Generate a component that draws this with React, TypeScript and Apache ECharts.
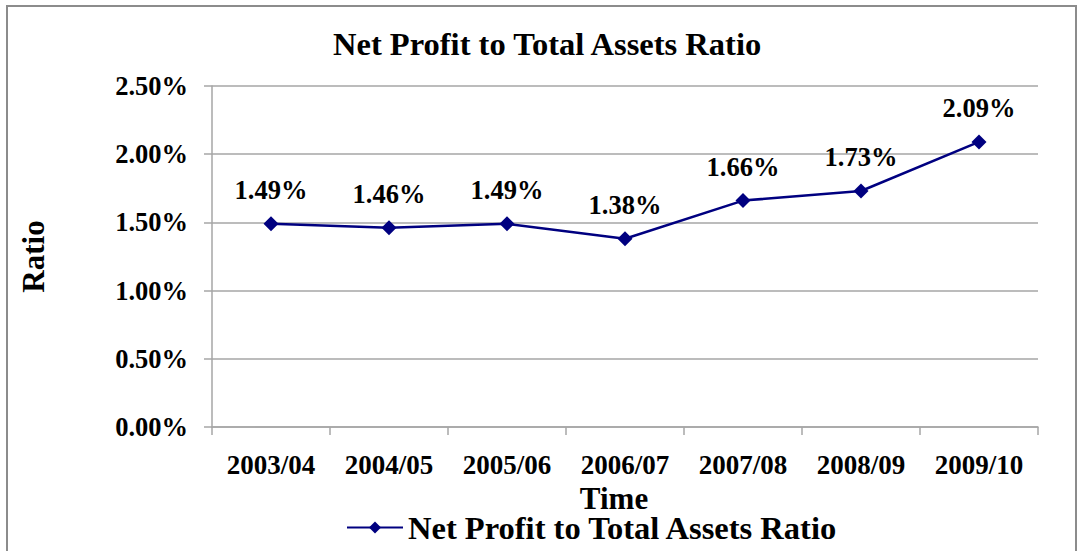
import React, { useEffect, useRef } from "react";
import * as echarts from "echarts";

const chartTitle = "Net Profit to Total Assets Ratio";
const seriesName = "Net Profit to Total Assets Ratio";
const categories = ["2003/04", "2004/05", "2005/06", "2006/07", "2007/08", "2008/09", "2009/10"];
const ratioValues = [1.49, 1.46, 1.49, 1.38, 1.66, 1.73, 2.09];
const yAxisName = "Ratio";
const xAxisName = "Time";

const FONT = "'Liberation Serif', 'Times New Roman', serif";
const GRID_COLOR = "#a6a6a6";
const NAVY = "#000080";

export default function App() {
  const ref = useRef<HTMLDivElement>(null);
  useEffect(() => {
    if (!ref.current) return;
    const chart = echarts.init(ref.current, null, { renderer: "svg" });
    chart.setOption({
      animation: false,
      backgroundColor: "#ffffff",
      textStyle: { fontFamily: FONT },
      title: {
        text: chartTitle,
        left: 333,
        top: 27,
        padding: 0,
        textStyle: { fontFamily: FONT, fontWeight: "bold", fontSize: 32.5, color: "#000" },
      },
      graphic: [
        {
          type: "rect",
          shape: { x: 7, y: 6, width: 1069, height: 600 },
          style: { fill: "none", stroke: "#8c8c8c", lineWidth: 2 },
          silent: true,
        },
      ],
      legend: {
        left: 346,
        top: 511,
        padding: 0,
        itemWidth: 56,
        itemHeight: 15,
        itemGap: 4,
        textStyle: {
          fontFamily: FONT,
          fontWeight: "bold",
          fontSize: 32.5,
          lineHeight: 24,
          color: "#000",
        },
        data: [seriesName],
      },
      grid: { left: 212, right: 40, top: 86, bottom: 124, containLabel: false },
      xAxis: {
        type: "category",
        data: categories,
        boundaryGap: true,
        name: xAxisName,
        nameLocation: "middle",
        nameGap: 60,
        nameTextStyle: {
          fontFamily: FONT,
          fontWeight: "bold",
          fontSize: 31,
          lineHeight: 20,
          color: "#000",
          padding: [0, 22, 0, 0],
        },
        axisLine: { show: true, lineStyle: { color: GRID_COLOR, width: 1.5 } },
        axisTick: { show: true, length: 8, lineStyle: { color: GRID_COLOR, width: 1.5 } },
        axisLabel: { margin: 24, fontFamily: FONT, fontWeight: "bold", fontSize: 27, color: "#000" },
        splitLine: { show: false },
      },
      yAxis: {
        type: "value",
        min: 0,
        max: 2.5,
        interval: 0.5,
        name: yAxisName,
        nameLocation: "middle",
        nameGap: 163,
        nameRotate: 90,
        nameTextStyle: { fontFamily: FONT, fontWeight: "bold", fontSize: 31, color: "#000" },
        axisLine: { show: true, lineStyle: { color: GRID_COLOR, width: 1.5 } },
        axisTick: { show: true, length: 8, lineStyle: { color: GRID_COLOR, width: 1.5 } },
        axisLabel: {
          margin: 24,
          fontFamily: FONT,
          fontWeight: "bold",
          fontSize: 26.5,
          color: "#000",
          formatter: (v: number) => v.toFixed(2) + "%",
        },
        splitLine: { show: true, lineStyle: { color: GRID_COLOR, width: 1.5 } },
      },
      series: [
        {
          name: seriesName,
          type: "line",
          data: ratioValues,
          symbol: "diamond",
          symbolSize: [15, 15],
          itemStyle: { color: NAVY },
          lineStyle: { color: NAVY, width: 2.5 },
          label: {
            show: true,
            position: "top",
            distance: 13,
            fontFamily: FONT,
            fontWeight: "bold",
            fontSize: 26.5,
            color: "#000",
            formatter: (p: any) => Number(p.value).toFixed(2) + "%",
          },
        },
      ],
    });
    return () => chart.dispose();
  }, []);
  return (
    <div
      ref={ref}
      style={{ position: "fixed", left: 0, top: 0, width: 1078, height: 551 }}
    />
  );
}
